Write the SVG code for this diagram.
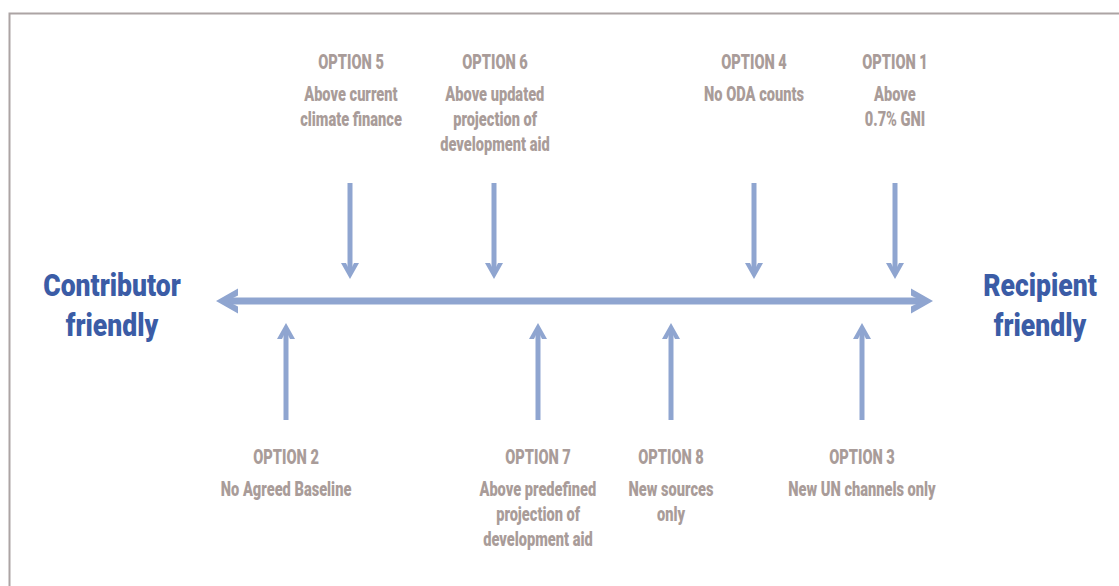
<svg xmlns="http://www.w3.org/2000/svg" width="1119" height="586" viewBox="0 0 1119 586">
<style>
.opt{font-family:Roboto,"Liberation Sans",sans-serif;font-weight:900;font-size:19.5px;fill:#a99c99;text-anchor:middle;transform:scaleX(0.75);transform-box:fill-box;transform-origin:center}
.ttl{font-family:Roboto,"Liberation Sans",sans-serif;font-weight:900;font-size:32px;fill:#3b5ca6;text-anchor:middle;transform:scaleX(0.83);transform-box:fill-box;transform-origin:center}
.sh{stroke:#8fa5d0;stroke-width:5;fill:none}
.main{stroke:#8fa5d0;stroke-width:7;fill:none}
</style>
<defs>
<marker id="hs" markerUnits="userSpaceOnUse" viewBox="-9 -10 18 20" refX="0" refY="0" markerWidth="18" markerHeight="20" orient="auto">
<path d="M-8,-9 L8,0 L-8,9 L-8,4 L0,0 L-8,-4 Z" fill="#8fa5d0"/>
</marker>
<marker id="hm" markerUnits="userSpaceOnUse" viewBox="-12 -14 26 28" refX="0" refY="0" markerWidth="26" markerHeight="28" orient="auto">
<path d="M-11,-12.5 L11,0 L-11,12.5 L-11,5.5 L0,0 L-11,-5.5 Z" fill="#8fa5d0"/>
</marker>
</defs>
<rect x="9.5" y="13.5" width="1130" height="600" fill="#fff" stroke="#aca4a4" stroke-width="2"/>
<g id="connectors">
<path class="main" d="M575,301 L227,301" marker-end="url(#hm)"/>
<path class="main" d="M575,301 L922,301" marker-end="url(#hm)"/>
<path class="sh" d="M350,183 L350,271" marker-end="url(#hs)"/>
<path class="sh" d="M494,183 L494,271" marker-end="url(#hs)"/>
<path class="sh" d="M754,183 L754,271" marker-end="url(#hs)"/>
<path class="sh" d="M895,183 L895,271" marker-end="url(#hs)"/>
<path class="sh" d="M286,420 L286,331" marker-end="url(#hs)"/>
<path class="sh" d="M538,420 L538,331" marker-end="url(#hs)"/>
<path class="sh" d="M671,420 L671,331" marker-end="url(#hs)"/>
<path class="sh" d="M862,420 L862,331" marker-end="url(#hs)"/>
</g>
<g id="contributor">
<text class="ttl" x="112" y="296">Contributor</text>
<text class="ttl" x="112" y="336">friendly</text>
</g>
<g id="recipient">
<text class="ttl" x="1040" y="296">Recipient</text>
<text class="ttl" x="1040" y="336">friendly</text>
</g>
<g id="option5">
<text class="opt" x="351" y="69">OPTION 5</text>
<text class="opt" x="351" y="101">Above current</text>
<text class="opt" x="351" y="126">climate finance</text>
</g>
<g id="option6">
<text class="opt" x="495" y="69">OPTION 6</text>
<text class="opt" x="495" y="101">Above updated</text>
<text class="opt" x="495" y="126">projection of</text>
<text class="opt" x="495" y="151">development aid</text>
</g>
<g id="option4">
<text class="opt" x="754" y="69">OPTION 4</text>
<text class="opt" x="754" y="101">No ODA counts</text>
</g>
<g id="option1">
<text class="opt" x="895" y="69">OPTION 1</text>
<text class="opt" x="895" y="101">Above</text>
<text class="opt" x="895" y="126">0.7% GNI</text>
</g>
<g id="option2">
<text class="opt" x="286" y="464">OPTION 2</text>
<text class="opt" x="286" y="496">No Agreed Baseline</text>
</g>
<g id="option7">
<text class="opt" x="538" y="464">OPTION 7</text>
<text class="opt" x="538" y="496">Above predefined</text>
<text class="opt" x="538" y="521">projection of</text>
<text class="opt" x="538" y="546">development aid</text>
</g>
<g id="option8">
<text class="opt" x="671" y="464">OPTION 8</text>
<text class="opt" x="671" y="496">New sources</text>
<text class="opt" x="671" y="521">only</text>
</g>
<g id="option3">
<text class="opt" x="862" y="464">OPTION 3</text>
<text class="opt" x="862" y="496">New UN channels only</text>
</g>
</svg>
